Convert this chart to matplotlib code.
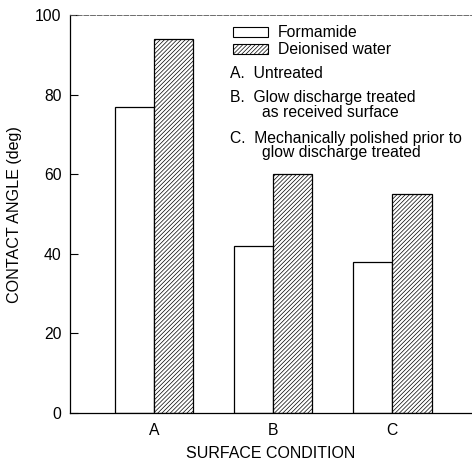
import matplotlib
matplotlib.use("Agg")
import matplotlib.pyplot as plt
import matplotlib.patches as patches
import numpy as np

plt.rcParams['font.family'] = ['Liberation Sans', 'DejaVu Sans']
plt.rcParams['hatch.linewidth'] = 0.5

# data
conditions = ["A", "B", "C"]
formamide = [77, 42, 38]
water = [94, 60, 55]
notes = [("A.  Untreated", None),
         ("B.  Glow discharge treated", "as received surface"),
         ("C.  Mechanically polished prior to", "glow discharge treated")]

fig = plt.figure(figsize=(4.72, 4.63), dpi=100)
ax = fig.add_axes([70 / 472, 50 / 463, 402 / 472, 398 / 463])

x = np.arange(len(conditions))
w = 0.33
ax.bar(x - w / 2, formamide, w, facecolor="white", edgecolor="black", linewidth=0.9)
ax.bar(x + w / 2, water, w, facecolor="white", edgecolor="black", linewidth=0.9,
       hatch="////////")

ax.set_xlim(-0.706, 2.67)
ax.set_ylim(0, 100)
ax.set_xticks(x)
ax.set_xticklabels(conditions, fontsize=11.3)
ax.tick_params(axis="x", length=0, pad=7)
ax.set_yticks([0, 20, 40, 60, 80, 100])
ax.tick_params(axis="y", direction="in", length=6, width=0.8, labelsize=11.3, pad=6)

ax.spines["right"].set_visible(False)
ax.spines["top"].set_linestyle((0, (6, 2)))
ax.spines["top"].set_linewidth(0.6)
ax.spines["top"].set_color("#555555")
ax.spines["left"].set_linewidth(0.9)
ax.spines["bottom"].set_linewidth(0.9)

fig.text(15 / 472, 1 - 215 / 463, "CONTACT ANGLE (deg)", fontsize=11.6,
         rotation=90, ha="center", va="center")
fig.text(271 / 472, 1 - 453 / 463, "SURFACE CONDITION", fontsize=11.5,
         ha="center", va="center")

# legend drawn by hand in axes-fraction coordinates
def px(xp, yp):
    return ((xp - 70) / 402, (413 - yp) / 398)

for i, (label, hatch) in enumerate([("Formamide", None), ("Deionised water", "////////")]):
    yc = 32 + i * 17
    bx, by = px(233, yc + 5)
    ax.add_patch(patches.Rectangle((bx, by), 35 / 402, 10 / 398, transform=ax.transAxes,
                                   facecolor="white", edgecolor="black", linewidth=0.8,
                                   hatch=hatch))
    tx, ty = px(278, yc)
    ax.text(tx, ty, label, transform=ax.transAxes, fontsize=11.3, va="center", ha="left")

for (first, second), yp in zip(notes, [73, 97, 138]):
    tx, ty = px(230, yp)
    ax.text(tx, ty, first, transform=ax.transAxes, fontsize=11.3, va="center", ha="left")
    if second:
        tx, ty = px(262, yp + 15)
        ax.text(tx, ty, second, transform=ax.transAxes, fontsize=11.3, va="center", ha="left")

fig.savefig("out.png", dpi=100, facecolor="white")
